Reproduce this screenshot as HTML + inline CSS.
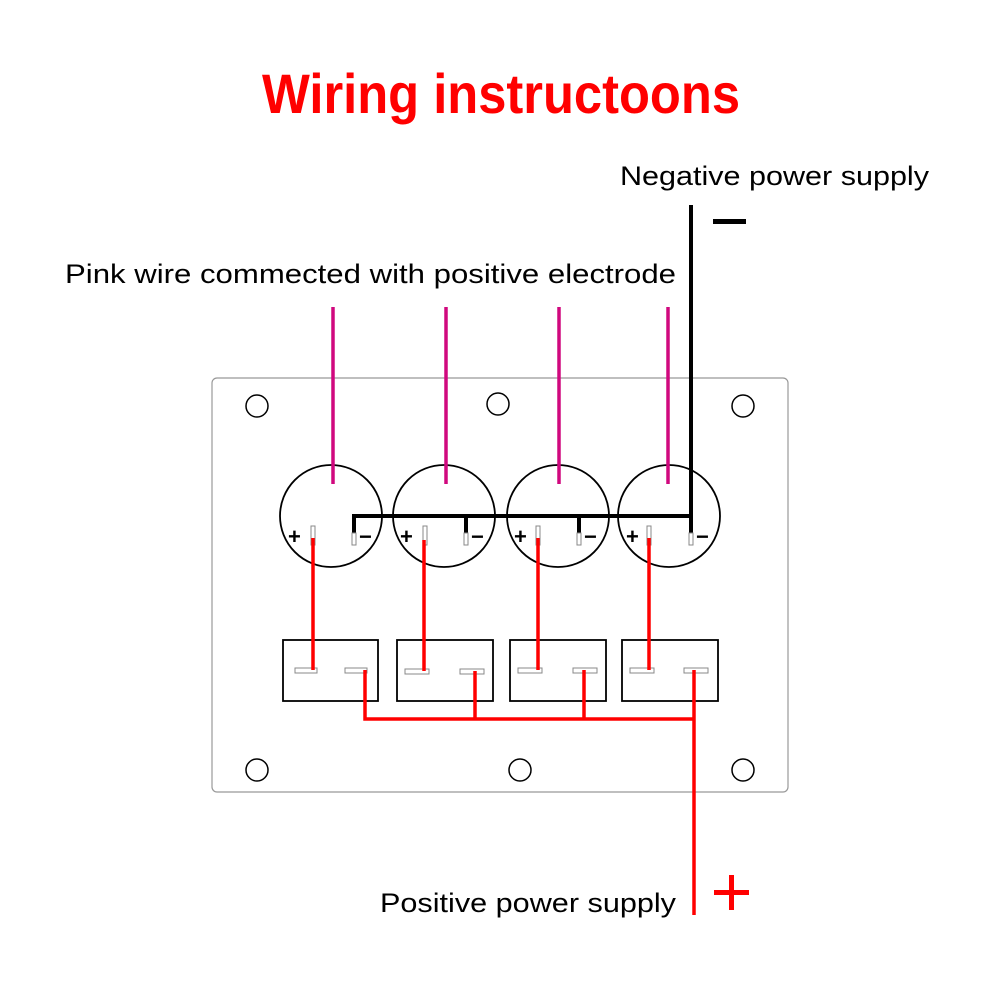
<!DOCTYPE html>
<html><head><meta charset="utf-8"><style>
html,body{margin:0;padding:0;background:#fff;}
svg{display:block;}
text{font-family:"Liberation Sans",sans-serif;}
</style></head><body>
<svg width="1001" height="1001" viewBox="0 0 1001 1001" xmlns="http://www.w3.org/2000/svg">
<text x="262" y="113" font-size="56" font-weight="bold" fill="#f00" textLength="478" lengthAdjust="spacingAndGlyphs">Wiring instructoons</text>
<text x="620" y="185" font-size="27" fill="#000" textLength="309" lengthAdjust="spacingAndGlyphs">Negative power supply</text>
<text x="65" y="283" font-size="27" fill="#000" textLength="611" lengthAdjust="spacingAndGlyphs">Pink wire commected with positive electrode</text>
<text x="380" y="912" font-size="27" fill="#000" textLength="296" lengthAdjust="spacingAndGlyphs">Positive power supply</text>
<rect x="713" y="219" width="33" height="5" fill="#000"/>
<rect x="714" y="890" width="35" height="5" fill="#f00"/>
<rect x="729" y="875" width="5" height="35" fill="#f00"/>
<rect x="212" y="378" width="576" height="414" rx="5" fill="none" stroke="#999" stroke-width="1.2"/>
<g fill="none" stroke="#000" stroke-width="1.5">
<circle cx="257" cy="406" r="11"/><circle cx="498" cy="404" r="11"/><circle cx="743" cy="406" r="11"/>
<circle cx="257" cy="770" r="11"/><circle cx="520" cy="770" r="11"/><circle cx="743" cy="770" r="11"/>
</g>
<g fill="none" stroke="#000" stroke-width="1.8">
<circle cx="331" cy="516" r="51"/><circle cx="444" cy="516" r="51"/><circle cx="558" cy="516" r="51"/><circle cx="669" cy="516" r="51"/>
<rect x="283" y="640" width="95" height="61"/><rect x="397" y="640" width="96" height="61"/><rect x="510" y="640" width="96" height="61"/><rect x="622" y="640" width="96" height="61"/>
</g>
<g stroke="#d0087e" stroke-width="3.5">
<line x1="333" y1="307" x2="333" y2="484"/><line x1="446" y1="307" x2="446" y2="484"/><line x1="559" y1="307" x2="559" y2="484"/><line x1="668" y1="307" x2="668" y2="484"/>
</g>
<g stroke="#000" stroke-width="4">
<line x1="691" y1="205" x2="691" y2="518"/>
<line x1="352" y1="516" x2="693" y2="516"/>
<line x1="354" y1="514" x2="354" y2="533"/><line x1="466" y1="514" x2="466" y2="533"/><line x1="579" y1="514" x2="579" y2="533"/><line x1="691" y1="514" x2="691" y2="533"/>
</g>
<g fill="#fff" stroke="#888" stroke-width="1">
<rect x="311" y="526" width="4" height="19"/><rect x="423" y="526" width="4" height="19"/><rect x="536" y="526" width="4" height="19"/><rect x="647" y="526" width="4" height="19"/>
<rect x="352" y="533" width="4" height="12"/><rect x="464" y="533" width="4" height="12"/><rect x="577" y="533" width="4" height="12"/><rect x="689" y="533" width="4" height="12"/>
<rect x="295" y="668" width="22" height="5"/><rect x="345" y="668" width="22" height="5"/>
<rect x="405" y="669" width="24" height="5"/><rect x="460" y="669" width="24" height="5"/>
<rect x="518" y="668" width="24" height="5"/><rect x="573" y="668" width="24" height="5"/>
<rect x="630" y="668" width="24" height="5"/><rect x="684" y="668" width="24" height="5"/>
</g>
<g stroke="#f00" stroke-width="3.5" fill="none">
<line x1="313" y1="538" x2="313" y2="670"/><line x1="424" y1="540" x2="424" y2="671"/><line x1="538" y1="538" x2="538" y2="670"/><line x1="649" y1="538" x2="649" y2="670"/>
<polyline points="365,670 365,719 694,719"/>
<line x1="475" y1="671" x2="475" y2="719"/><line x1="584" y1="670" x2="584" y2="719"/>
<line x1="694" y1="670" x2="694" y2="915"/>
</g>
<g font-size="22" font-weight="bold" fill="#000">
<text x="288" y="544">+</text><text x="400" y="544">+</text><text x="514" y="544">+</text><text x="626" y="544">+</text>
<text x="359" y="544">−</text><text x="471" y="544">−</text><text x="584" y="544">−</text><text x="696" y="544">−</text>
</g>
</svg>
</body></html>
